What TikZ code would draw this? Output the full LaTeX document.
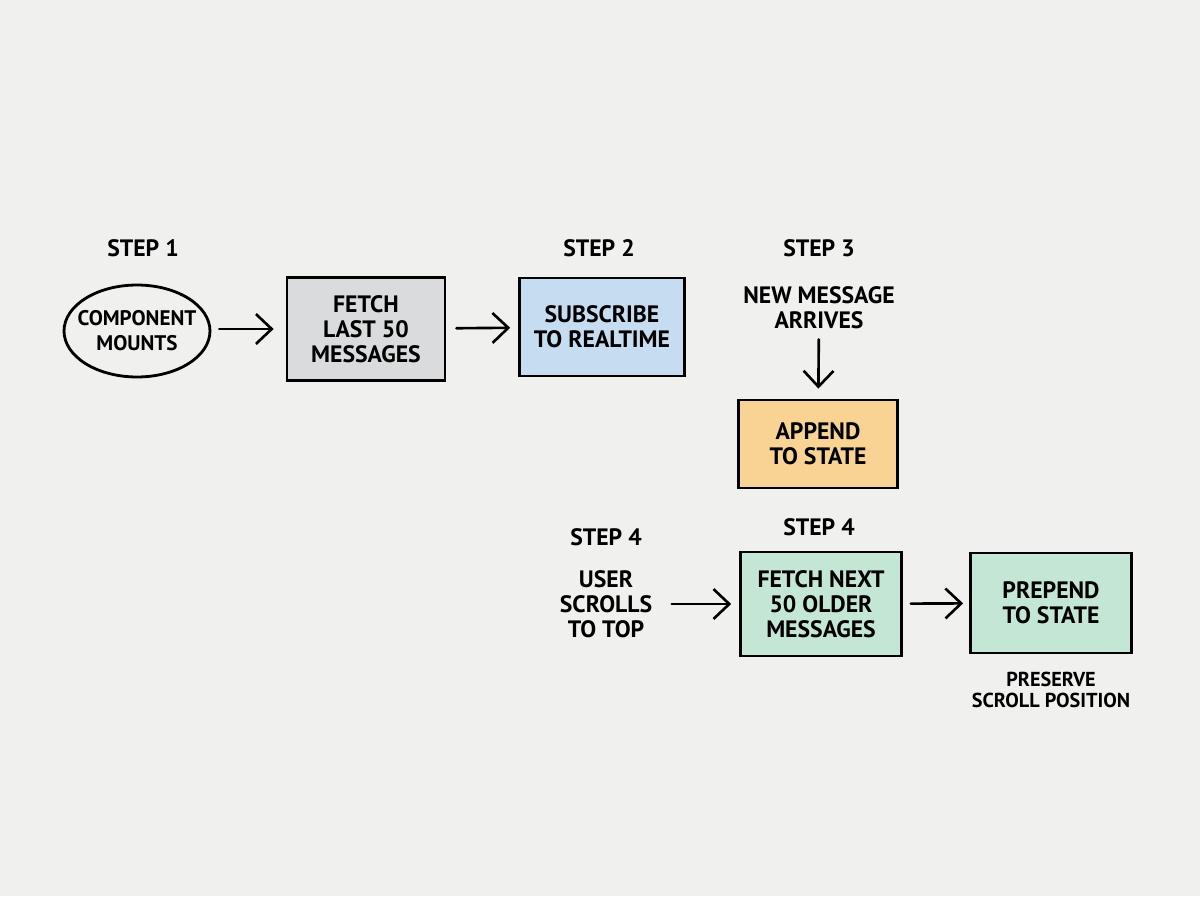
\documentclass[tikz,border=0pt]{standalone}
\usepackage{fontspec}
\setmainfont{PT Sans}
\usepackage{xcolor}
\usepackage{tikz}
\usetikzlibrary{calc, shapes.geometric, arrows.meta}

\definecolor{paper}{HTML}{F0F0EE}
\definecolor{fetchgray}{HTML}{D9DBDD}
\definecolor{subblue}{HTML}{C6DCF0}
\definecolor{appendorange}{HTML}{F8D394}
\definecolor{loadgreen}{HTML}{C4E6D4}

\begin{document}
\begin{tikzpicture}[x=0.02cm, y=-0.02cm, >={Straight Barb[length=9pt,width=17pt]},
    box/.style={draw=black, line width=1.6pt, fill=#1, align=center, inner sep=0pt,
        font=\bfseries\fontsize{13.5}{14.2}\selectfont},
    lbl/.style={align=center, inner sep=0pt, font=\bfseries\fontsize{13.5}{14.2}\selectfont},
    note/.style={align=center, inner sep=0pt, font=\bfseries\fontsize{11.5}{12}\selectfont},
    arr/.style={->, line width=1.5pt, line cap=round}]
    % Nền
    \fill[paper] (0,0) rectangle (1200,896);
    \useasboundingbox (0,0) rectangle (1200,896);

    % Hàng trên: bước 1 -- 3
    \node[lbl] (s1) at (143,248) {STEP 1};
    \node[draw, ellipse, line width=1.6pt, minimum width=2.92cm, minimum height=1.84cm,
        inner xsep=-5.4pt, inner ysep=0pt, align=center, font=\bfseries\fontsize{12}{14.2}\selectfont]
        (mount) at (137,331) {COMPONENT\\MOUNTS};
    \node[box=fetchgray, minimum width=3.16cm, minimum height=2.06cm] (fetch) at (366,329) {FETCH\\LAST 50\\MESSAGES};
    \node[lbl] (s2) at (599,248) {STEP 2};
    \node[box=subblue, minimum width=3.3cm, minimum height=1.96cm] (sub) at (602,327) {SUBSCRIBE\\TO REALTIME};
    \node[lbl] (s3) at (819,248) {STEP 3};
    \node[lbl] (arrives) at (819,308) {NEW MESSAGE\\ARRIVES};
    \node[box=appendorange, minimum width=3.18cm, minimum height=1.76cm] (append) at (818,444) {APPEND\\TO STATE};

    % Hàng dưới: bước 4
    \node[lbl] (s4a) at (606,537) {STEP 4};
    \node[lbl] (scroll) at (606,604) {USER\\SCROLLS\\TO TOP};
    \node[lbl] (s4b) at (819,527) {STEP 4};
    \node[box=loadgreen, minimum width=3.22cm, minimum height=2.08cm] (older) at (821,604) {FETCH NEXT\\50 OLDER\\MESSAGES};
    \node[box=loadgreen, minimum width=3.22cm, minimum height=2cm] (prepend) at (1051,603) {PREPEND\\TO STATE};
    \node[note] (keep) at (1051,690) {PRESERVE\\SCROLL POSITION};

    % Mũi tên
    \draw[arr, shorten <=4.5pt, shorten >=6.8pt] (mount.east |- fetch) -- (fetch);
    \draw[arr, shorten <=5.7pt, shorten >=4.5pt] (fetch) -- (sub);
    \draw[arr, shorten <=5.7pt, shorten >=5.7pt] (arrives) -- (append);
    \draw[arr, shorten <=11pt, shorten >=4.5pt] (scroll) -- (older);
    \draw[arr, shorten <=4.5pt, shorten >=3.4pt] (older) -- (prepend);
\end{tikzpicture}
\end{document}
